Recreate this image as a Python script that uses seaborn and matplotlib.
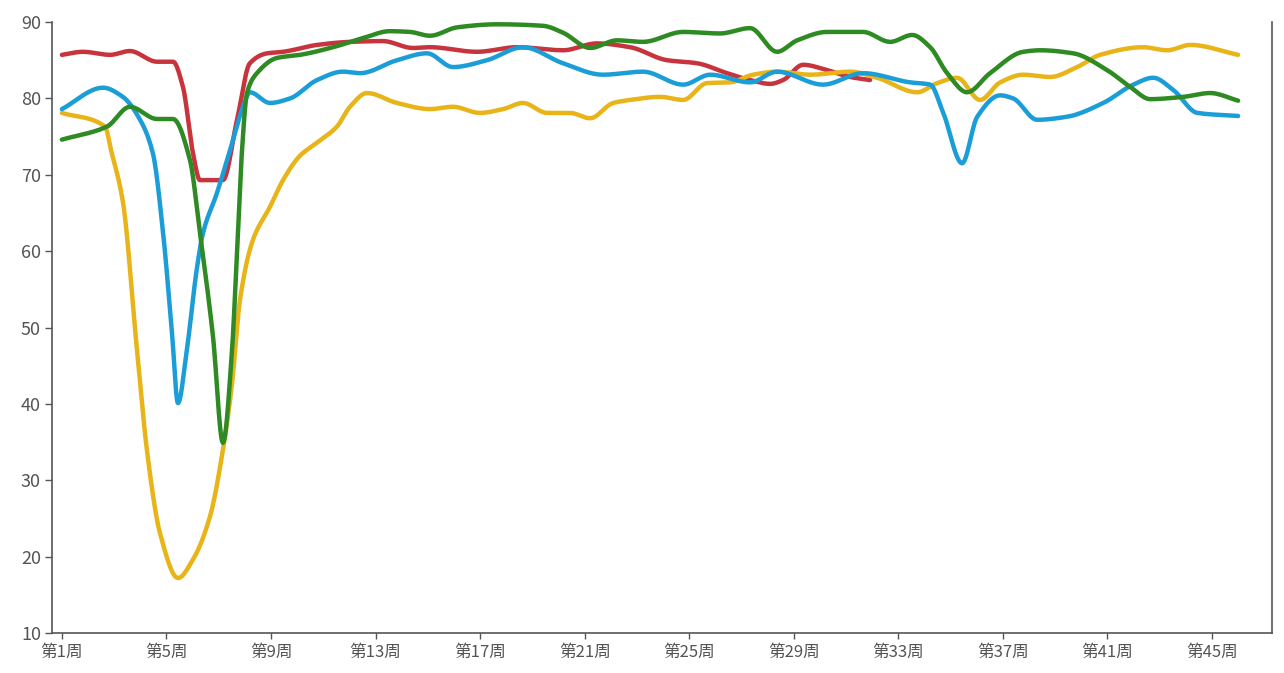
import numpy as np
import pandas as pd
import matplotlib
matplotlib.use("Agg")
import matplotlib.pyplot as plt
import seaborn as sns

# values (x = week position, y = score)
red_weeks = [1.00, 1.80, 2.84, 3.60, 4.64, 5.25, 5.63, 6.01, 6.28, 7.16, 7.70, 8.19, 8.85,
             9.46, 10.76, 12.02, 13.28, 14.43, 15.08, 16.88, 18.41, 20.17, 21.47, 22.74,
             24.15, 25.30, 26.45, 27.33, 28.10, 28.59, 29.36, 30.28, 31.16, 31.92]
red_vals = [85.7, 86.1, 85.7, 86.2, 84.8, 84.8, 81.5, 72.9, 69.3, 69.3, 77.2, 84.6, 85.9,
            86.1, 87.0, 87.4, 87.5, 86.6, 86.7, 86.1, 86.7, 86.3, 87.2, 86.7,
            85.0, 84.6, 83.3, 82.4, 81.9, 82.4, 84.4, 83.7, 82.8, 82.4]

green_weeks = [1.00, 2.72, 3.60, 4.64, 5.25, 5.90, 6.28, 6.78, 7.16, 7.51, 7.70, 7.89, 8.08,
               8.46, 9.23, 10.11, 11.37, 12.52, 13.55, 14.32, 15.08, 16.12, 17.65, 19.41,
               20.17, 21.21, 22.24, 23.23, 24.77, 26.18, 27.33, 28.36, 29.13, 30.28, 31.65,
               32.69, 33.53, 34.22, 34.87, 35.63, 36.51, 37.78, 38.43, 39.69, 40.99, 41.87,
               42.64, 43.90, 44.93, 46.00]
green_vals = [74.6, 76.3, 78.9, 77.3, 77.3, 71.9, 62.4, 48.8, 34.9, 47.1, 60.1, 73.2, 80.7,
              83.3, 85.3, 85.7, 86.7, 87.9, 88.8, 88.7, 88.2, 89.3, 89.7, 89.5,
              88.6, 86.6, 87.6, 87.4, 88.7, 88.5, 89.2, 86.1, 87.6, 88.7, 88.7,
              87.4, 88.3, 86.7, 83.3, 80.8, 83.3, 86.1, 86.3, 85.9, 83.7, 81.5,
              79.9, 80.2, 80.7, 79.7]

blue_weeks = [1.00, 2.57, 3.33, 3.99, 4.48, 4.87, 5.21, 5.44, 5.78, 6.17, 6.40, 6.93, 7.43,
              7.93, 8.19, 8.96, 9.73, 10.76, 11.75, 12.40, 13.82, 14.97, 15.96, 17.26,
              18.64, 20.17, 21.70, 23.23, 24.77, 25.80, 27.33, 28.36, 30.12, 31.65, 33.45,
              34.22, 34.72, 35.44, 36.02, 36.90, 37.39, 38.31, 39.46, 40.84, 41.99, 42.75,
              43.52, 44.44, 46.00]
blue_vals = [78.6, 81.4, 80.2, 77.2, 72.8, 62.4, 49.3, 40.1, 47.1, 57.9, 62.4, 67.6, 73.2,
             78.9, 80.8, 79.4, 80.0, 82.4, 83.5, 83.3, 85.0, 85.9, 84.1, 85.0,
             86.7, 84.6, 83.1, 83.5, 81.8, 83.1, 82.1, 83.5, 81.8, 83.3, 82.1,
             81.8, 78.1, 71.5, 77.6, 80.4, 80.0, 77.2, 77.6, 79.4, 81.8, 82.7,
             81.1, 78.1, 77.7]

yellow_weeks = [1.00, 2.65, 2.88, 3.33, 3.87, 4.25, 4.75, 5.44, 6.01, 6.66, 7.16, 7.51, 7.81,
                8.31, 8.96, 9.46, 10.11, 10.76, 11.52, 12.02, 12.67, 13.82, 15.08, 15.96,
                16.99, 17.88, 18.64, 19.56, 20.44, 21.21, 22.09, 22.74, 23.89, 24.77, 25.68,
                26.56, 27.44, 28.36, 29.63, 31.16, 32.19, 33.72, 34.49, 35.25, 36.13, 36.90,
                37.78, 38.81, 39.84, 40.72, 42.37, 43.29, 44.17, 46.00]
yellow_vals = [78.1, 76.3, 73.2, 66.5, 47.1, 34.0, 23.1, 17.2, 19.6, 25.2, 34.0, 42.7, 53.6,
               61.5, 65.8, 69.3, 72.5, 74.2, 76.3, 78.9, 80.7, 79.4, 78.6, 78.9,
               78.1, 78.6, 79.4, 78.1, 78.1, 77.4, 79.4, 79.8, 80.2, 79.8, 82.0,
               82.1, 83.1, 83.5, 83.1, 83.5, 82.7, 80.8, 82.0, 82.7, 79.8, 82.1,
               83.1, 82.8, 84.1, 85.7, 86.7, 86.3, 87.0, 85.7]

tick_weeks = [1, 5, 9, 13, 17, 21, 25, 29, 33, 37, 41, 45]
tick_labels = ["第1周", "第5周", "第9周", "第13周", "第17周", "第21周",
               "第25周", "第29周", "第33周", "第37周", "第41周", "第45周"]


def smooth(xs, ys, n=12):
    # monotone cubic (pchip style) so the curve looks like the smoothed original
    x = np.asarray(xs, float)
    y = np.asarray(ys, float)
    h = np.diff(x)
    d = np.diff(y) / h
    m = np.zeros_like(y)
    m[0], m[-1] = d[0], d[-1]
    for k in range(1, len(x) - 1):
        if d[k - 1] * d[k] > 0:
            w1 = 2 * h[k] + h[k - 1]
            w2 = h[k] + 2 * h[k - 1]
            m[k] = (w1 + w2) / (w1 / d[k - 1] + w2 / d[k])
    out_x, out_y = [], []
    for k in range(len(x) - 1):
        t = np.linspace(0, 1, n, endpoint=False)
        h00 = 2 * t**3 - 3 * t**2 + 1
        h10 = t**3 - 2 * t**2 + t
        h01 = -2 * t**3 + 3 * t**2
        h11 = t**3 - t**2
        out_x.append(x[k] + t * h[k])
        out_y.append(h00 * y[k] + h10 * h[k] * m[k] + h01 * y[k + 1] + h11 * h[k] * m[k + 1])
    out_x.append([x[-1]])
    out_y.append([y[-1]])
    return np.concatenate(out_x), np.concatenate(out_y)


sns.set_style("white")
plt.rcParams['font.family'] = ['Noto Sans CJK SC', 'DejaVu Sans']

fig = plt.figure(figsize=(12.84, 6.73), dpi=100)
ax = fig.add_axes([0.0405, 0.0594, 0.9502, 0.9079])

series = [
    (red_weeks, red_vals, "#c7343d"),
    (yellow_weeks, yellow_vals, "#e8b418"),
    (blue_weeks, blue_vals, "#1b9ed8"),
    (green_weeks, green_vals, "#2e8a22"),
]
for wk, vals, col in series:
    sx, sy = smooth(wk, vals)
    df = pd.DataFrame({"week": sx, "score": sy})
    sns.lineplot(data=df, x="week", y="score", color=col, lw=3.2, sort=False,
                 estimator=None, ax=ax, solid_capstyle="round", solid_joinstyle="round")

ax.set_xlim(0.62, 47.3)
ax.set_ylim(10, 90)
ax.set_yticks(range(10, 91, 10))
ax.set_xticks(tick_weeks)
ax.set_xticklabels(tick_labels)
ax.set_xlabel("")
ax.set_ylabel("")

for s in ["top"]:
    ax.spines[s].set_visible(False)
for s in ["left", "right", "bottom"]:
    ax.spines[s].set_color("#555555")
    ax.spines[s].set_linewidth(1.2)

ax.tick_params(axis="y", length=5, width=1, color="#555555", labelcolor="#555555",
               labelsize=13, pad=3, left=True)
ax.tick_params(axis="x", length=4, width=1, color="#555555", labelcolor="#555555",
               labelsize=12, pad=4, bottom=True)

fig.savefig("out.png", dpi=100)
